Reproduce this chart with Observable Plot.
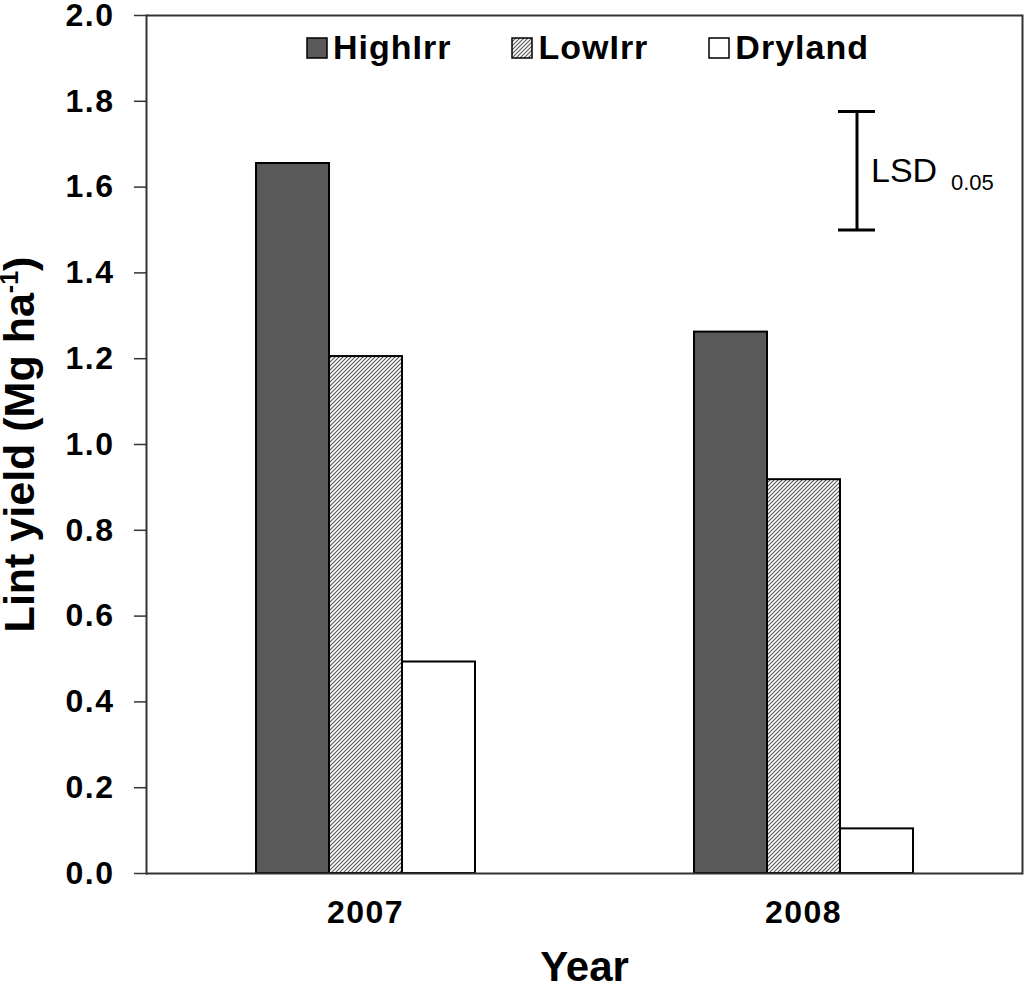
<!DOCTYPE html>
<html><head><meta charset="utf-8">
<script src="https://cdn.jsdelivr.net/npm/d3@7"></script>
<script src="https://cdn.jsdelivr.net/npm/@observablehq/plot@0.6"></script>
<style>
body{margin:0;background:#fff;font-family:"Liberation Sans",Arial,sans-serif;}
#wrap{position:relative;width:1024px;height:983px;}
#legend{position:absolute;left:307px;top:28px;}
#legend .lg-swatches{font-family:"Liberation Sans",Arial,sans-serif;font-size:34px;font-weight:bold;letter-spacing:1px;color:#000;margin:0;}
#legend .lg-swatch{margin-right:61px;}
#legend .lg-swatch > svg{margin-right:6px;}
g[aria-label="y-axis tick label"] text, g[aria-label="fx-axis tick label"] text{letter-spacing:1.5px;}
</style></head><body><div id="wrap"></div>
<script>
const years = ["2007", "2008"];
const treatments = ["HighIrr", "LowIrr", "Dryland"];
const highIrr = [1.655, 1.262];
const lowIrr = [1.205, 0.918];
const dryland = [0.493, 0.104];
const yTicks = [0, 0.2, 0.4, 0.6, 0.8, 1.0, 1.2, 1.4, 1.6, 1.8, 2.0];
const lsdLow = 1.50, lsdHigh = 1.776;
const lsdText = "LSD", lsdSub = "0.05";
const fills = ["#595959", "url(#hatch)", "#ffffff"];

const series = [highIrr, lowIrr, dryland];
const data = years.flatMap((year, i) => treatments.map((t, j) => ({year, treatment: t, value: series[j][i]})));
const lsd = [{year: "2008", treatment: "Dryland", low: lsdLow, high: lsdHigh, mid: (lsdLow + lsdHigh) / 2}];

const plot = Plot.plot({
  width: 1024, height: 983,
  marginLeft: 146, marginRight: 2, marginTop: 15, marginBottom: 110,
  style: {fontFamily: "Liberation Sans, Arial, sans-serif", color: "#000", background: "#fff", overflow: "visible"},
  fx: {domain: years, padding: 0, label: "Year"},
  x: {domain: treatments, paddingInner: 0, paddingOuter: 1.5, axis: null},
  y: {domain: [0, 2]},
  color: {type: "ordinal", domain: treatments, range: fills},
  marks: [
    Plot.barY(data, {fx: "year", x: "treatment", y: "value", fill: "treatment", stroke: "#000", strokeWidth: 2}),
    Plot.ruleY([0, 2], {stroke: "#333", strokeWidth: 2}),
    Plot.frame({anchor: "left", facetAnchor: "left", stroke: "#333", strokeWidth: 2}),
    Plot.frame({anchor: "right", facetAnchor: "right", stroke: "#333", strokeWidth: 2}),
    Plot.axisY({ticks: yTicks, tickFormat: ".1f", tickSize: 12, tickPadding: 20, fontSize: 32, fontWeight: "bold",
      stroke: "#333", strokeWidth: 1.5, label: "Lint yield (Mg ha-1)", labelAnchor: "center", labelArrow: "none"}),
    Plot.axisFx({anchor: "bottom", tickSize: 0, tickPadding: 27, fontSize: 32, fontWeight: "bold", label: "Year", labelAnchor: "center", labelArrow: "none"}),
    Plot.ruleX(lsd, {fx: "year", x: "treatment", y1: "low", y2: "high", dx: -20, stroke: "#000", strokeWidth: 3}),
    Plot.tickY(lsd, {fx: "year", x: "treatment", y: "low", dx: -20, insetLeft: 18, insetRight: 18, stroke: "#000", strokeWidth: 3}),
    Plot.tickY(lsd, {fx: "year", x: "treatment", y: "high", dx: -20, insetLeft: 18, insetRight: 18, stroke: "#000", strokeWidth: 3}),
    Plot.text(lsd, {fx: "year", x: "treatment", y: "mid", text: () => lsdText, textAnchor: "start", dx: -6, fontSize: 34, fill: "#000"}),
    Plot.text(lsd, {fx: "year", x: "treatment", y: "mid", text: () => lsdSub, textAnchor: "start", dx: 74, dy: 12, fontSize: 22, fill: "#000"})
  ]
});

// hatch pattern
const svg = d3.select(plot);
const pat = svg.insert("defs", ":first-child").append("pattern")
  .attr("id", "hatch").attr("patternUnits", "userSpaceOnUse").attr("width", 4).attr("height", 4);
pat.append("rect").attr("width", 4).attr("height", 4).attr("fill", "#fff");
pat.append("path").attr("d", "M-1,1 L1,-1 M0,4 L4,0 M3,5 L5,3").attr("stroke", "#555").attr("stroke-width", 1.1);

// axis labels
const ns = "http://www.w3.org/2000/svg";
const yl = plot.querySelector('g[aria-label="y-axis label"] text');
if (yl) {
  yl.style.fontSize = "43px";
  yl.textContent = "";
  const t1 = document.createElementNS(ns, "tspan"); t1.textContent = "Lint yield (Mg ha"; yl.appendChild(t1);
  const t2 = document.createElementNS(ns, "tspan"); t2.textContent = "-1"; t2.setAttribute("font-size", "25"); t2.setAttribute("dy", "-16"); yl.appendChild(t2);
  const t3 = document.createElementNS(ns, "tspan"); t3.textContent = ")"; t3.setAttribute("dy", "16"); yl.appendChild(t3);
}
const xl = plot.querySelector('g[aria-label="fx-axis label"] text');
if (xl) xl.style.fontSize = "42px";

const wrap = document.getElementById("wrap");
wrap.appendChild(plot);
const leg = plot.legend("color", {swatchSize: 20, className: "lg"});
const ld = document.createElement("div"); ld.id = "legend"; ld.appendChild(leg);
wrap.appendChild(ld);
ld.querySelectorAll("rect").forEach(r => { r.setAttribute("stroke", "#000"); r.setAttribute("stroke-width", "1.5"); });
</script></body></html>
